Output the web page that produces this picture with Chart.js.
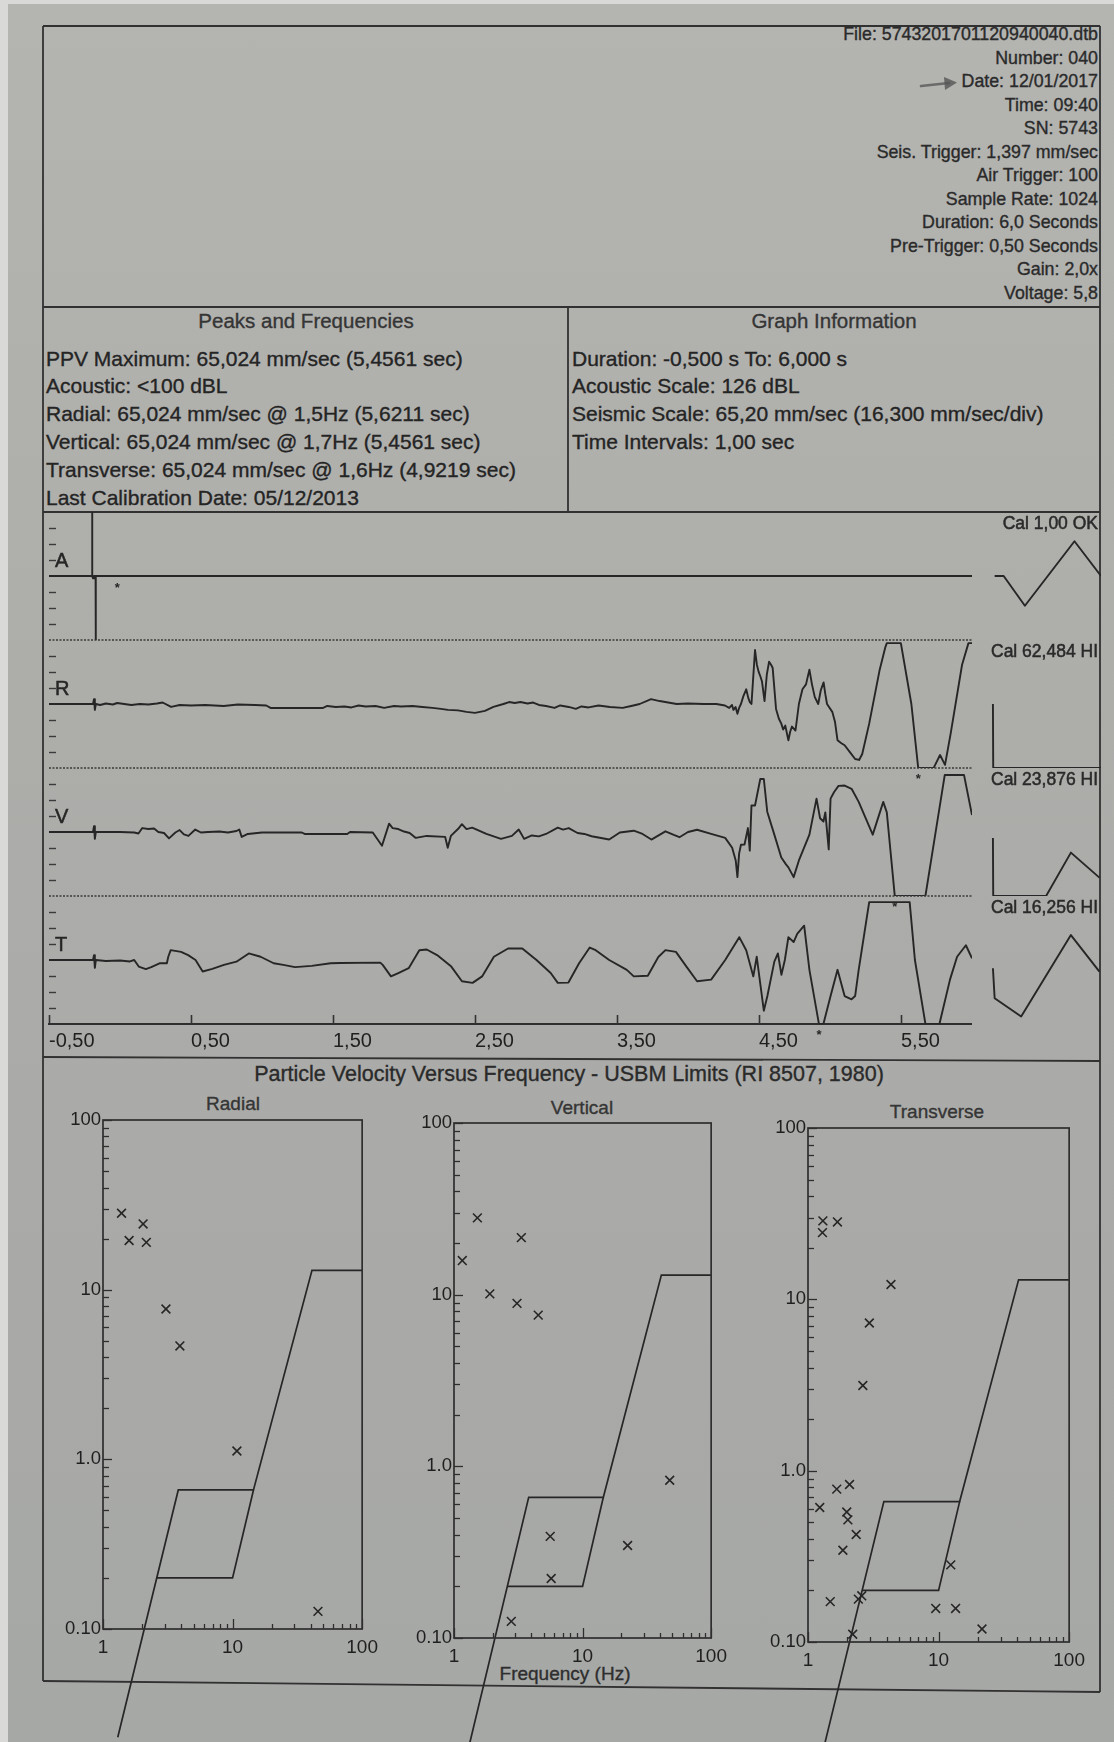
<!DOCTYPE html>
<html lang="en">
<head>
<meta charset="utf-8">
<title>Event Report 040</title>
<script src="https://cdn.jsdelivr.net/npm/chart.js@4.4.1/dist/chart.umd.min.js"></script>
<style>
  html, body { margin:0; padding:0; }
  body { width:1114px; height:1742px; position:relative; overflow:hidden; background:#d9d9d7;
         font-family:"Liberation Sans", Arial, Helvetica, sans-serif; color:#242424; }
  #paper { position:absolute; left:8px; top:4px; width:1106px; height:1738px;
           background:linear-gradient(180deg,#b4b4b1 0%,#adadaa 40%,#a6a8a6 100%); }
  .txt { position:absolute; white-space:nowrap; line-height:1; -webkit-text-stroke:0.35px currentColor; }
  canvas, svg { position:absolute; }
</style>
</head>
<body>
<div id="paper"></div>
<svg id="frame" width="1114" height="1742" style="left:0;top:0"></svg>
<div id="texts"></div>
<canvas id="wave"></canvas>
<canvas id="cal"></canvas>
<canvas id="radial"></canvas>
<canvas id="vertical"></canvas>
<canvas id="transverse"></canvas>
<script>
// ---------------- report text ----------------
const headerLines = ['File: 5743201701120940040.dtb','Number: 040','Date: 12/01/2017','Time: 09:40','SN: 5743',
  'Seis. Trigger: 1,397 mm/sec','Air Trigger: 100','Sample Rate: 1024','Duration: 6,0 Seconds',
  'Pre-Trigger: 0,50 Seconds','Gain: 2,0x','Voltage: 5,8'];
const peaksTitle = 'Peaks and Frequencies';
const peaksLines = ['PPV Maximum: 65,024 mm/sec (5,4561 sec)','Acoustic: <100 dBL',
  'Radial: 65,024 mm/sec @ 1,5Hz (5,6211 sec)','Vertical: 65,024 mm/sec @ 1,7Hz (5,4561 sec)',
  'Transverse: 65,024 mm/sec @ 1,6Hz (4,9219 sec)','Last Calibration Date: 05/12/2013'];
const graphTitle = 'Graph Information';
const graphLines = ['Duration: -0,500 s To: 6,000 s','Acoustic Scale: 126 dBL',
  'Seismic Scale: 65,20 mm/sec (16,300 mm/sec/div)','Time Intervals: 1,00 sec'];
const pvTitle = 'Particle Velocity Versus Frequency - USBM Limits (RI 8507, 1980)';
const pvAxisTitle = 'Frequency (Hz)';

// ---------------- waveform data: [time s, value] (air in Pa, geophones in mm/sec) ----------------
const timeTicks = [-0.5, 0.5, 1.5, 2.5, 3.5, 4.5, 5.5];
const timeTickLabels = ['-0,50','0,50','1,50','2,50','3,50','4,50','5,50'];
const channelNames = ['A','R','V','T'];
const channelFullScale = [40, 65.2, 65.2, 65.2];

const airTrace = [[-0.5,0],[-0.197,0],[-0.196,40],[-0.195,0],[-0.19,-1.5],[-0.184,0],[-0.172,0],[-0.171,-40],[-0.17,0],[6.0,0]];

const radialTrace = [[-0.5,0],[-0.19,0],[-0.183,5],[-0.177,-6],[-0.17,0],[-0.14,-1],[-0.1,0.5],[-0.05,-0.5],[-0.02,1],[0.03,0],
  [0.08,-1],[0.14,0],[0.2,-0.5],[0.26,0.5],[0.3,1.5],[0.36,-3],[0.42,-1],[0.5,-1.5],[0.6,-1],[0.73,-2],[0.83,-0.5],[0.95,-1],
  [1.03,-1.5],[1.06,-4],[1.25,-4],[1.43,-4],[1.46,-2],[1.52,-3],[1.58,-2.5],[1.63,-3.5],[1.68,-1.5],[1.73,-2.5],[1.8,-2],
  [1.86,-4],[1.93,-2],[1.98,-2.5],[2.06,-2],[2.13,-3],[2.2,-4],[2.26,-5],[2.31,-6],[2.38,-6.5],[2.44,-8],[2.5,-9],[2.57,-7],
  [2.63,-3],[2.7,0],[2.74,2],[2.78,1],[2.82,2],[2.87,0.5],[2.91,1.5],[2.95,-1],[3.0,-2],[3.06,-4],[3.1,-1.5],[3.16,-3],
  [3.21,-5],[3.25,-2.5],[3.3,-3.5],[3.37,-1.5],[3.45,-3],[3.54,-4],[3.6,-2],[3.66,0],[3.74,5],[3.8,3],[3.86,1.5],[3.92,0],
  [4.0,0.5],[4.11,0],[4.2,0],[4.26,-1.5],[4.29,-4],[4.31,-1],[4.32,-6],[4.335,-3],[4.348,-10],[4.36,-4],[4.373,0],[4.39,8],
  [4.41,15],[4.425,6],[4.435,2],[4.447,0],[4.472,55],[4.485,40],[4.497,33],[4.51,28],[4.521,23],[4.539,3],[4.555,30],
  [4.571,43],[4.585,40],[4.596,37],[4.62,-5],[4.64,-15],[4.657,-20],[4.67,-26],[4.685,-22],[4.707,-37],[4.72,-28],
  [4.732,-23],[4.757,-27],[4.781,0],[4.806,15],[4.831,20],[4.855,35],[4.873,20],[4.893,7],[4.917,0],[4.935,14],[4.955,22],
  [4.967,10],[4.979,0],[5.016,-8],[5.035,-18],[5.053,-37],[5.08,-40],[5.103,-42],[5.14,-49],[5.177,-56],[5.205,-57],
  [5.227,-51],[5.276,-20],[5.35,35],[5.39,58],[5.4,62],[5.499,62],[5.573,0],[5.6211,-65.024],[5.73,-65.024],[5.775,-52],
  [5.81,-62],[5.85,-30],[5.93,40],[5.975,62],[6.0,62]];

const verticalTrace = [[-0.5,0],[-0.19,0],[-0.183,6],[-0.177,-7],[-0.17,0],[0.0,0],[0.1,-0.5],[0.13,-1.5],[0.157,4],[0.2,3],
  [0.24,3.5],[0.27,0],[0.31,-1],[0.345,-6.5],[0.39,-0.5],[0.42,2],[0.45,-2.5],[0.482,-4],[0.53,2.5],[0.57,-0.5],[0.62,0],
  [0.7,0.5],[0.76,-0.5],[0.82,1],[0.84,2.5],[0.857,-5],[0.9,-2],[1.0,-0.5],[1.28,-0.5],[1.3,-2],[1.6,-2],[1.62,0],[1.78,-0.5],
  [1.845,-14],[1.895,8.5],[1.92,4],[1.96,3],[2.0,0.5],[2.04,-1],[2.083,-6],[2.16,-4],[2.29,-5],[2.308,-16],[2.33,-4],[2.38,3],
  [2.408,8],[2.44,3],[2.48,4.5],[2.58,-2],[2.683,-7],[2.76,-4],[2.808,2.5],[2.846,-7],[2.9,-3.5],[2.95,-4.5],[3.0,-2],
  [3.083,4.5],[3.12,2.5],[3.16,4],[3.222,-1],[3.27,-2],[3.321,-4.3],[3.445,-7.7],[3.52,-0.5],[3.618,1.3],[3.68,-2],[3.742,-7.7],
  [3.841,0.7],[3.9,-3],[3.94,-5.3],[4.0,0],[4.064,2.3],[4.163,-2],[4.262,-6],[4.311,-16],[4.336,-29],[4.348,-46],[4.36,-22],
  [4.373,-13],[4.398,-12.7],[4.422,4],[4.435,-19],[4.447,27],[4.472,27],[4.509,54],[4.534,54],[4.558,20.7],[4.608,-2.7],
  [4.657,-26],[4.69,-33],[4.707,-36],[4.744,-46],[4.781,-29],[4.855,-2.7],[4.905,34],[4.93,14],[4.954,10.7],[4.967,20],
  [4.991,-17.7],[5.004,34],[5.029,40.7],[5.06,47],[5.103,47.3],[5.152,44],[5.202,30.7],[5.301,-2.7],[5.375,30.7],[5.4,20],
  [5.4561,-65.024],[5.672,-65.024],[5.808,58],[5.944,58],[6.0,17.3]];

const transverseTrace = [[-0.5,0],[-0.19,0],[-0.183,5],[-0.177,-8],[-0.17,0],[-0.1,-1],[0.0,-0.5],[0.07,-1.5],[0.1,0],
  [0.132,-6.7],[0.182,-9.3],[0.22,-7.3],[0.282,-3.3],[0.33,-3.3],[0.34,3.3],[0.357,10],[0.43,8.3],[0.48,5],[0.532,0],
  [0.582,-11.7],[0.65,-9],[0.732,-5],[0.82,-1.7],[0.907,6.7],[0.99,3.3],[1.082,-3.3],[1.15,-5],[1.232,-7.3],[1.35,-6],
  [1.483,-3.3],[1.55,-3],[1.833,-2.7],[1.85,-5],[1.908,-16.7],[1.96,-13.3],[2.033,-8.3],[2.108,10],[2.16,10.7],[2.233,5],
  [2.333,-6.7],[2.408,-21.7],[2.483,-23.3],[2.55,-16.7],[2.633,3.3],[2.733,11.7],[2.833,11.7],[2.933,0],[3.033,-13.3],
  [3.083,-23.3],[3.158,-23],[3.233,-3.3],[3.308,12.7],[3.35,10],[3.445,0],[3.569,-10],[3.618,-16.7],[3.717,-16],[3.791,3],
  [3.841,10],[3.915,8.3],[3.989,-6.7],[4.064,-21.7],[4.163,-20],[4.262,0],[4.361,23.3],[4.41,10],[4.46,-16.7],[4.484,3.3],
  [4.534,-51.7],[4.559,-36.7],[4.608,-1.7],[4.633,6.7],[4.658,-15],[4.682,0],[4.707,23.3],[4.744,18.3],[4.769,26.7],
  [4.818,35],[4.855,-10],[4.9219,-65.024],[4.954,-65.024],[5.004,-36.7],[5.053,-10],[5.103,-36.7],[5.152,-40],[5.177,-36.7],
  [5.202,-10],[5.276,59],[5.561,59],[5.598,0],[5.672,-65.024],[5.771,-65.024],[5.845,-20],[5.895,3.3],[5.957,15],[6.0,1.7]];

// peak markers (time of peak, value at peak) per channel
const peakTimes = [-0.02, 5.6211, 5.4561, 4.9219];
const peakValues = [0, -65.024, -65.024, -65.024];

// calibration pulses: [time within cal window s, value]
const calLabels = ['Cal 1,00 OK','Cal 62,484 HI','Cal 23,876 HI','Cal 16,256 HI'];
const calAir = [[0.158,0],[0.221,0],[0.369,-18.6],[0.715,21.7],[0.9,0]];
const calRadial = [[0.146,0],[0.148,-65.2],[0.9,-65.2]];
const calVertical = [[0.146,-6],[0.148,-65.2],[0.517,-65.2],[0.69,-21],[0.889,-46.5]];
const calTransverse = [[0.146,-8.4],[0.158,-39],[0.343,-57.6],[0.69,25.4],[0.889,-11.9]];

// ---------------- particle velocity vs frequency ----------------
const radialFreq = [1.39, 1.59, 2.04, 2.16, 3.06, 3.92, 10.8, 45.6];
const radialPeak = [28.2, 19.5, 24.4, 19.0, 7.69, 4.66, 1.12, 0.127];
const verticalFreq = [1.52, 1.16, 3.34, 1.90, 3.09, 4.52, 47.6, 5.6, 22.4, 5.7, 2.79];
const verticalPeak = [28.0, 15.8, 21.5, 10.1, 8.9, 7.6, 0.83, 0.391, 0.346, 0.222, 0.125];
const transverseFreq = [1.30, 1.29, 1.68, 4.32, 2.95, 2.63, 2.08, 1.66, 1.23, 1.98, 2.02, 2.34, 1.85, 1.48, 2.43, 2.58, 2.20, 12.4, 9.51, 13.5, 21.5];
const transversePeak = [28.7, 24.5, 28.3, 12.2, 7.28, 3.14, 0.83, 0.78, 0.61, 0.574, 0.516, 0.424, 0.343, 0.172, 0.178, 0.186, 0.111, 0.282, 0.157, 0.157, 0.119];
const usbmFreq = [1.3, 3.81, 14.5, 41, 100];
const usbmVel = [0.023, 0.66, 0.66, 13, 13];
const usbmInnerFreq = [2.6, 10, 14.5];
const usbmInnerVel = [0.2, 0.2, 0.66];
const velocityDecades = [0.1, 1, 10, 100];
const velocityLabels = ['0.10', '1.0', '10', '100'];
const freqDecades = [1, 10, 100];
const freqLabels = ['1', '10', '100'];

// ---------------- page furniture ----------------
const INK = '#262626';
const FONT = '"Liberation Sans", Arial, Helvetica, sans-serif';

const texts = document.getElementById('texts');
function addText(str, x, y, size, align, color) {
  const d = document.createElement('div');
  d.className = 'txt';
  d.textContent = str;
  d.style.fontSize = size + 'px';
  d.style.top = (y - size * 0.5) + 'px';
  d.style.color = color || '#242424';
  if (align === 'right') { d.style.right = (1114 - x) + 'px'; }
  else if (align === 'center') { d.style.left = x + 'px'; d.style.transform = 'translateX(-50%)'; }
  else { d.style.left = x + 'px'; }
  texts.appendChild(d);
}
headerLines.forEach((s, i) => addText(s, 1098, 35 + i * 23.5, 17.8, 'right', '#2a2a2a'));
addText(peaksTitle, 306, 321, 20.5, 'center', '#353535');
addText(graphTitle, 834, 321, 20.5, 'center', '#353535');
peaksLines.forEach((s, i) => addText(s, 46, 358 + i * 27.8, 21, 'left'));
graphLines.forEach((s, i) => addText(s, 572, 358 + i * 27.8, 21, 'left'));
addText(pvTitle, 569, 1075, 21.5, 'center', '#2a2a2a');
addText('Radial', 233, 1103, 19, 'center', '#353535');
addText('Vertical', 582, 1107, 19, 'center', '#353535');
addText('Transverse', 937, 1111, 19, 'center', '#353535');
addText(pvAxisTitle, 565, 1673, 19, 'center', '#2e2e2e');

// frame rules
const frameLines = [[43,26,1100,26],[43,26,43,1681],[1100,26,1100,1692],[43,1681,1100,1692],
  [43,307,1100,307],[568,307,568,512],[43,512,1100,512],[43,1057,1100,1061]];
const svg = document.getElementById('frame');
let svgInner = '';
frameLines.forEach(([x1,y1,x2,y2]) => {
  svgInner += `<line x1="${x1}" y1="${y1}" x2="${x2}" y2="${y2}" stroke="#313131" stroke-width="1.8"/>`;
});
// pen mark beside the date line
svgInner += '<path d="M921 86 L949 83" stroke="#5a5a5a" stroke-width="2.6" stroke-linecap="round" opacity="0.8"/>';
svgInner += '<path d="M944 77 L957 82.5 L945 90 Z" fill="#555" opacity="0.8"/>';
svg.innerHTML = svgInner;

function place(id, left, top, w, h) {
  const c = document.getElementById(id);
  c.width = w; c.height = h;
  c.style.left = left + 'px'; c.style.top = top + 'px';
  c.style.width = w + 'px'; c.style.height = h + 'px';
  return c;
}
const toXY = arr => arr.map(([x, y]) => ({ x, y }));

function inkText(ctx, str, x, y) {
  ctx.fillText(str, x, y);
  ctx.lineWidth = 0.5;
  ctx.strokeStyle = ctx.fillStyle;
  ctx.strokeText(str, x, y);
}

// ---------------- stacked channel bands ----------------
const channelIds = ['yA', 'yR', 'yV', 'yT'];
function bandScale(k) {
  return {
    type: 'linear', position: 'left', stack: 'wave', stackWeight: 1, weight: 4 - k,
    min: -channelFullScale[k], max: channelFullScale[k], offset: false,
    grid: { display: false, drawTicks: false }, border: { display: false }, ticks: { display: false },
    afterFit(s) { s.width = 0; }
  };
}

function line(ctx, x1, y1, x2, y2) { ctx.beginPath(); ctx.moveTo(x1, y1); ctx.lineTo(x2, y2); ctx.stroke(); }

const waveMarks = {
  id: 'waveMarks',
  afterDatasetsDraw(chart) {
    const { ctx, chartArea: a } = chart;
    const xs = chart.scales.x;
    ctx.save();
    channelIds.forEach((id, k) => {
      const s = chart.scales[id];
      ctx.strokeStyle = '#3a3a3a';
      if (k > 0) {
        ctx.lineWidth = 1.3;
        ctx.setLineDash([2, 1.5]);
        line(ctx, a.left, s.top, a.right, s.top);
        ctx.setLineDash([]);
      }
      const div = channelFullScale[k] / 4;
      ctx.lineWidth = 1.4;
      for (let d = -3; d <= 3; d++) {
        if (!d) continue;
        const y = Math.round(s.getPixelForValue(d * div)) + 0.5;
        line(ctx, a.left, y, a.left + 7, y);
      }
      ctx.fillStyle = INK;
      ctx.font = '20px ' + FONT;
      ctx.textAlign = 'left';
      ctx.textBaseline = 'middle';
      inkText(ctx, channelNames[k], a.left + 6, s.getPixelForValue(div) + 1);
      // peak marker under the trace
      ctx.font = 'bold 13px ' + FONT;
      ctx.textAlign = 'center';
      ctx.fillText('*', xs.getPixelForValue(peakTimes[k]), s.getPixelForValue(peakValues[k]) + 12);
    });
    // time ticks pointing into the plot
    ctx.strokeStyle = '#333';
    ctx.lineWidth = 1.6;
    timeTicks.forEach(t => {
      const x = Math.round(xs.getPixelForValue(t)) + 0.5;
      line(ctx, x, a.bottom, x, a.bottom - 9);
    });
    ctx.restore();
  }
};

const traces = [airTrace, radialTrace, verticalTrace, transverseTrace];
const waveScales = {
  x: {
    type: 'linear', min: -0.5, max: 6.0,
    afterBuildTicks(s) { s.ticks = timeTicks.map(v => ({ value: v })); },
    ticks: { callback: (v, i) => timeTickLabels[i], align: 'start', autoSkip: false, maxRotation: 0,
             font: { size: 20, family: FONT }, color: '#1f1f1f', padding: 5 },
    grid: { display: false, drawTicks: false },
    border: { display: true, color: '#2e2e2e', width: 2 },
    afterFit(s) { s.height = 40; }
  }
};
channelIds.forEach((id, k) => { waveScales[id] = bandScale(k); });

new Chart(place('wave', 44, 512, 928, 552), {
  type: 'line',
  data: { datasets: traces.map((tr, k) => ({
    data: toXY(tr), yAxisID: channelIds[k], borderColor: INK, borderWidth: 1.9,
    pointRadius: 0, tension: 0, borderJoinStyle: 'round', fill: false
  })) },
  options: {
    responsive: false, animation: false, events: [],
    layout: { padding: 0 },
    plugins: { legend: { display: false }, tooltip: { enabled: false } },
    scales: waveScales
  },
  plugins: [waveMarks]
});

// ---------------- calibration pulses ----------------
const calMarks = {
  id: 'calMarks',
  afterDatasetsDraw(chart) {
    const { ctx, chartArea: a } = chart;
    ctx.save();
    ctx.fillStyle = '#2a2a2a';
    ctx.font = '17.5px ' + FONT;
    ctx.textAlign = 'right';
    ctx.textBaseline = 'middle';
    channelIds.forEach((id, k) => {
      inkText(ctx, calLabels[k], a.right - 3, chart.scales[id].top + 12);
    });
    ctx.restore();
  }
};
const calScales = { x: { type: 'linear', min: 0, max: 0.9, display: false } };
channelIds.forEach((id, k) => { calScales[id] = bandScale(k); });
new Chart(place('cal', 972, 512, 129, 512), {
  type: 'line',
  data: { datasets: [calAir, calRadial, calVertical, calTransverse].map((tr, k) => ({
    data: toXY(tr), yAxisID: channelIds[k], borderColor: INK, borderWidth: 1.9,
    pointRadius: 0, tension: 0, borderJoinStyle: 'round', fill: false
  })) },
  options: {
    responsive: false, animation: false, events: [],
    layout: { padding: 0 },
    plugins: { legend: { display: false }, tooltip: { enabled: false } },
    scales: calScales
  },
  plugins: [calMarks]
});

// ---------------- log-log velocity / frequency panels ----------------
function logSteps(min, max) {
  const out = [];
  for (let e = Math.floor(Math.log10(min)); e <= Math.ceil(Math.log10(max)); e++) {
    for (let m = 1; m < 10; m++) {
      const v = m * Math.pow(10, e);
      if (v >= min * 0.999 && v <= max * 1.001) out.push([v, m === 1]);
    }
  }
  return out;
}
const logFrame = {
  id: 'logFrame',
  afterDatasetsDraw(chart) {
    const { ctx, chartArea: a, scales: { x, y } } = chart;
    ctx.save();
    ctx.strokeStyle = '#2e2e2e';
    ctx.lineWidth = 1.7;
    ctx.strokeRect(a.left, a.top, a.right - a.left, a.bottom - a.top);
    ctx.lineWidth = 1.3;
    logSteps(y.min, y.max).forEach(([v, major]) => {
      const py = Math.round(y.getPixelForValue(v)) + 0.5;
      line(ctx, a.left, py, a.left + (major ? 9 : 6), py);
    });
    logSteps(x.min, x.max).forEach(([v, major]) => {
      const px = Math.round(x.getPixelForValue(v)) + 0.5;
      line(ctx, px, a.bottom, px, a.bottom - (major ? 10 : 5));
    });
    ctx.restore();
  }
};

function velocityChart(id, box, freq, peak) {
  const yAxisW = 52, xAxisH = 32, padTop = 14, padRight = 22;
  const left = box.left - yAxisW, top = box.top - padTop;
  const w = box.right + padRight - left, h = 1742 - top;
  const padBottom = h - xAxisH - (box.bottom - box.top + padTop);
  new Chart(place(id, left, top, w, h), {
    type: 'scatter',
    data: { datasets: [
      { data: freq.map((f, i) => ({ x: f, y: peak[i] })), pointStyle: 'crossRot', pointRadius: 6.2,
        pointBorderWidth: 1.6, pointBorderColor: INK, pointBackgroundColor: INK, showLine: false },
      { data: usbmFreq.map((f, i) => ({ x: f, y: usbmVel[i] })), showLine: true, pointRadius: 0,
        borderColor: INK, borderWidth: 1.7, clip: false },
      { data: usbmInnerFreq.map((f, i) => ({ x: f, y: usbmInnerVel[i] })), showLine: true, pointRadius: 0,
        borderColor: INK, borderWidth: 1.7, clip: false }
    ] },
    options: {
      responsive: false, animation: false, events: [],
      layout: { padding: { top: padTop, right: padRight, bottom: padBottom, left: 0 } },
      plugins: { legend: { display: false }, tooltip: { enabled: false } },
      scales: {
        x: {
          type: 'logarithmic', min: 1, max: 100,
          afterBuildTicks(s) { s.ticks = freqDecades.map(v => ({ value: v })); },
          ticks: { callback: (v, i) => freqLabels[i], autoSkip: false, maxRotation: 0,
                   font: { size: 19, family: FONT }, color: '#1f1f1f', padding: 7 },
          grid: { display: false, drawTicks: false }, border: { display: false },
          afterFit(s) { s.height = xAxisH; }
        },
        y: {
          type: 'logarithmic', min: 0.1, max: 100,
          afterBuildTicks(s) { s.ticks = velocityDecades.map(v => ({ value: v })); },
          ticks: { callback: (v, i) => velocityLabels[i], autoSkip: false,
                   font: { size: 18.5, family: FONT }, color: '#1f1f1f', padding: 2 },
          grid: { display: false, drawTicks: false }, border: { display: false },
          afterFit(s) { s.width = yAxisW; }
        }
      }
    },
    plugins: [logFrame]
  });
}
velocityChart('radial', { left: 103, right: 363, top: 1120, bottom: 1629 }, radialFreq, radialPeak);
velocityChart('vertical', { left: 454, right: 712, top: 1123, bottom: 1638 }, verticalFreq, verticalPeak);
velocityChart('transverse', { left: 808, right: 1070, top: 1128, bottom: 1642 }, transverseFreq, transversePeak);
</script>
</body>
</html>
